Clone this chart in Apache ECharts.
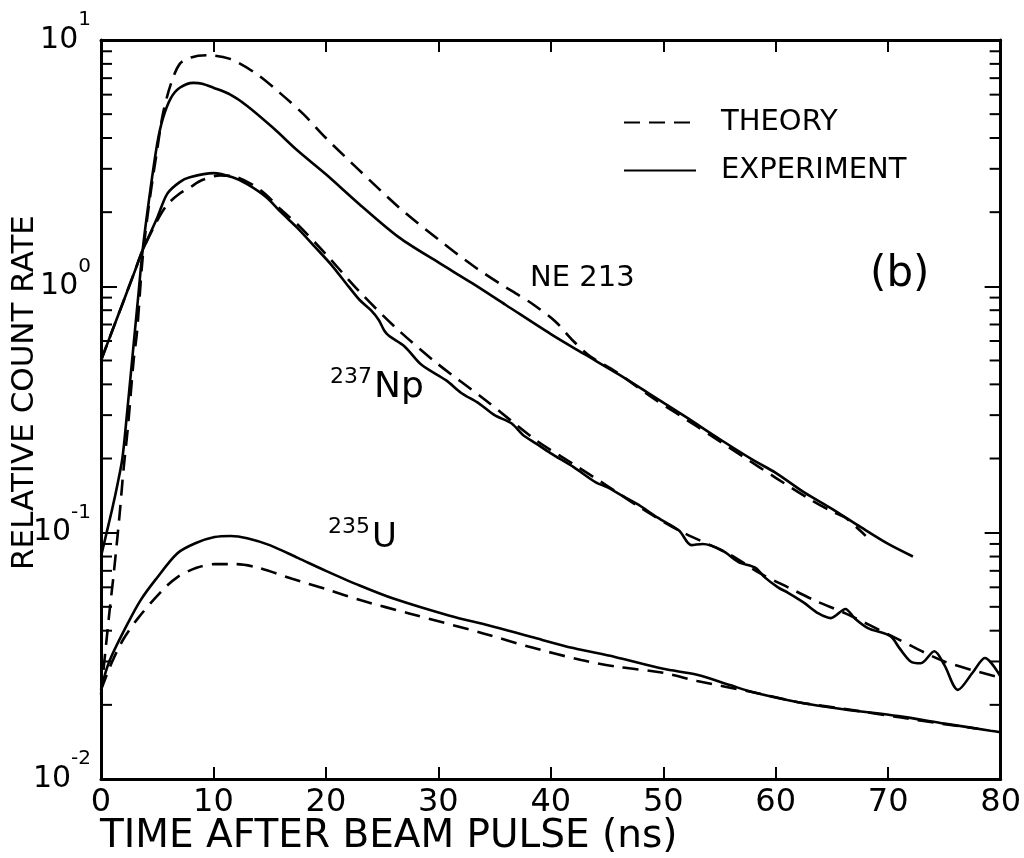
<!DOCTYPE html>
<html>
<head>
<meta charset="utf-8">
<script src="https://cdn.jsdelivr.net/npm/echarts@6/dist/echarts.min.js"></script>
<style>
  html, body { margin: 0; padding: 0; background: #fff; }
  #chart { width: 1024px; height: 858px; }
</style>
</head>
<body>
<div id="chart"></div>
<script>
var FONT = 'DejaVu Sans'

// time (ns) vs relative count rate
var ne213Exp = [
  [0, 0.08], [0.5, 0.1], [1, 0.125], [1.5, 0.16], [1.9, 0.2], [2.3, 0.3], [2.85, 0.55],
  [3.3, 0.9], [3.7, 1.4], [4.3, 2.3], [5, 3.8], [5.5, 4.8], [6.2, 5.8], [7, 6.4],
  [8.2, 6.7], [9, 6.65], [10, 6.4], [11.5, 6.0], [13, 5.4], [15.3, 4.4], [17.5, 3.55],
  [20, 2.85], [23, 2.15], [26.5, 1.58], [30, 1.25], [33, 1.03], [36, 0.84], [40, 0.64],
  [43, 0.53], [46, 0.44], [48.7, 0.368], [52, 0.295], [55, 0.24], [58, 0.197],
  [60, 0.175], [62.6, 0.145], [65, 0.125], [67.6, 0.105], [70, 0.09], [72.2, 0.08]
]
var ne213Theory = [
  [0, 0.022], [0.5, 0.037], [0.8, 0.05], [1.1, 0.066], [1.5, 0.1], [1.7, 0.125],
  [2, 0.18], [2.4, 0.27], [2.9, 0.5], [3.2, 0.65], [3.7, 1.3], [4.3, 2.2], [5, 3.6],
  [5.5, 5.0], [6.2, 6.6], [7, 8.0], [8, 8.5], [9.4, 8.67], [11.4, 8.4], [13.8, 7.3],
  [15.9, 6.1], [18, 5.0], [20, 4.0], [23, 2.95], [26.5, 2.09], [30, 1.55], [33, 1.22],
  [35.4, 1.03], [37, 0.93], [38.5, 0.84], [40.4, 0.72], [42, 0.6], [43.5, 0.52],
  [45.8, 0.45], [49, 0.354], [53, 0.27], [57, 0.205], [60, 0.167], [63, 0.137],
  [65, 0.122], [66.2, 0.115], [67.5, 0.102], [68, 0.097]
]
var np237Exp = [
  [0, 0.5], [1, 0.66], [2, 0.87], [3, 1.15], [3.7, 1.4], [5, 1.9], [5.9, 2.38], [7, 2.65],
  [7.9, 2.77], [10, 2.88], [11.7, 2.77], [13, 2.6], [14.7, 2.3], [16, 2.0], [17.5, 1.72],
  [19, 1.45], [20.5, 1.22], [22, 1.0], [23, 0.88], [24, 0.8], [24.7, 0.73], [25.2, 0.66],
  [25.6, 0.63], [27, 0.57], [28.5, 0.48], [30.7, 0.415], [32, 0.37], [33.6, 0.335],
  [35, 0.3], [36.5, 0.278], [37.5, 0.25], [38.7, 0.23], [40, 0.21], [42, 0.185],
  [44, 0.16], [45, 0.153], [46.5, 0.14], [48, 0.128], [49.5, 0.115], [51.4, 0.102],
  [52.5, 0.089], [53.5, 0.09], [55.2, 0.085], [56.7, 0.076], [58.2, 0.072], [59, 0.066],
  [60.2, 0.06], [61.1, 0.057], [62.5, 0.052], [63.8, 0.047], [64.9, 0.045], [66.2, 0.049],
  [67, 0.045], [68.2, 0.041], [70.2, 0.038], [71, 0.034], [72, 0.03], [72.9, 0.0295],
  [74.1, 0.033], [75, 0.029], [76.2, 0.023], [77.5, 0.027], [78.6, 0.031], [80, 0.026]
]
var np237Theory = [
  [0, 0.5], [1, 0.66], [2, 0.87], [3, 1.15], [3.7, 1.4], [5, 1.85], [5.9, 2.15], [7, 2.38],
  [7.9, 2.52], [9, 2.7], [10.6, 2.82], [12, 2.78], [13.5, 2.58], [14.7, 2.35], [16, 2.05],
  [17.5, 1.78], [20, 1.35], [23, 0.95], [26.2, 0.68], [29.8, 0.49], [34.2, 0.345],
  [38.7, 0.237], [42, 0.19], [45, 0.155], [48, 0.126], [51.4, 0.102], [55.8, 0.082],
  [58.7, 0.068], [61.1, 0.06], [63.5, 0.053], [66.2, 0.047], [70.6, 0.0375], [75, 0.03],
  [80, 0.0258]
]
var u235Exp = [
  [0, 0.023], [0.5, 0.028], [1, 0.032], [2.4, 0.043], [3.5, 0.053], [4.8, 0.064],
  [6.8, 0.0825], [8.5, 0.091], [10.1, 0.096], [11.5, 0.097], [13, 0.095], [15, 0.089],
  [17.5, 0.079], [20, 0.07], [23, 0.061], [26, 0.054], [31, 0.046], [34.5, 0.042],
  [38.3, 0.0377], [42, 0.034], [45.7, 0.0313], [50, 0.028], [53, 0.0265], [56, 0.024],
  [58, 0.0225], [62, 0.0205], [66, 0.0192], [70.9, 0.018], [75, 0.0168], [79.1, 0.0157],
  [80, 0.0155]
]
var u235Theory = [
  [0, 0.023], [1, 0.03], [2, 0.037], [3.3, 0.045], [5.4, 0.058], [6.8, 0.066], [8.5, 0.072],
  [10.1, 0.0745], [12, 0.0745], [14, 0.072], [17, 0.065], [20, 0.059], [23.2, 0.053],
  [27.4, 0.047], [34, 0.039], [38, 0.0345], [42.7, 0.0304], [46, 0.0285], [50, 0.027],
  [53, 0.025], [58, 0.0225], [62, 0.0205], [66, 0.0193], [71, 0.0178], [75, 0.0167],
  [78, 0.016]
]

var yMinorTicks = [
  0.02, 0.03, 0.04, 0.05, 0.06, 0.07, 0.08, 0.09,
  0.2, 0.3, 0.4, 0.5, 0.6, 0.7, 0.8, 0.9,
  2, 3, 4, 5, 6, 7, 8, 9
]

var chart = echarts.init(document.getElementById('chart'))

function lineSeries(name, data, dashed) {
  return {
    name: name,
    type: 'line',
    data: data,
    symbol: 'none',
    showSymbol: false,
    smooth: 0.3,
    silent: true,
    itemStyle: { color: '#000' },
    lineStyle: { color: '#000', width: 2.6, type: dashed ? [16, 9] : 'solid' },
    z: 3
  }
}

var axisLine = { show: true, onZero: false, lineStyle: { color: '#000', width: 3 } }

var option = {
  backgroundColor: '#fff',
  animation: false,
  textStyle: { fontFamily: FONT, color: '#000' },
  grid: { left: 101, right: 21, top: 40, bottom: 79 },
  legend: {
    data: ['THEORY', 'EXPERIMENT'],
    orient: 'vertical',
    left: 618,
    top: 103,
    itemWidth: 72,
    itemHeight: 14,
    itemGap: 19,
    selectedMode: false,
    itemStyle: { opacity: 0 },
    textStyle: { fontFamily: FONT, fontSize: 29, color: '#000', padding: [0, 0, 0, 20] }
  },
  xAxis: [
    {
      type: 'value', min: 0, max: 80, interval: 10,
      axisLine: axisLine,
      axisTick: { inside: true, length: 12, lineStyle: { width: 2, color: '#000' } },
      axisLabel: { fontFamily: FONT, fontSize: 32, color: '#000', margin: 8 },
      splitLine: { show: false }
    },
    {
      type: 'value', position: 'top', min: 0, max: 80, interval: 10,
      axisLine: axisLine,
      axisTick: { inside: true, length: 12, lineStyle: { width: 2, color: '#000' } },
      axisLabel: { show: false },
      splitLine: { show: false }
    }
  ],
  yAxis: [
    {
      type: 'log', logBase: 10, min: 0.01, max: 10,
      axisLine: axisLine,
      axisTick: { inside: true, length: 16, lineStyle: { width: 2, color: '#000' } },
      axisLabel: {
        margin: 10,
        formatter: function (v) {
          return '{b|10}{s|' + Math.round(Math.log10(v)) + '}'
        },
        rich: {
          b: { fontFamily: FONT, fontSize: 30, color: '#000' },
          s: { fontFamily: FONT, fontSize: 20, color: '#000', padding: [0, 0, 40, 0] }
        }
      },
      splitLine: { show: false }
    },
    {
      type: 'log', logBase: 10, min: 0.01, max: 10, position: 'right',
      axisLine: axisLine,
      axisTick: { inside: true, length: 16, lineStyle: { width: 2, color: '#000' } },
      axisLabel: { show: false },
      splitLine: { show: false }
    }
  ],
  series: [
    lineSeries('THEORY', ne213Theory, true),
    lineSeries('EXPERIMENT', ne213Exp, false),
    lineSeries('THEORY', np237Theory, true),
    lineSeries('EXPERIMENT', np237Exp, false),
    lineSeries('THEORY', u235Theory, true),
    lineSeries('EXPERIMENT', u235Exp, false),
    {
      // minor log ticks on left and right frame
      type: 'custom',
      silent: true,
      data: yMinorTicks.map(function (v) { return [0, v] }),
      renderItem: function (params, api) {
        var l = api.coord([0, api.value(1)])
        var r = api.coord([80, api.value(1)])
        var st = { stroke: '#000', lineWidth: 2 }
        return {
          type: 'group',
          children: [
            { type: 'line', shape: { x1: l[0], y1: l[1], x2: l[0] + 11, y2: l[1] }, style: st },
            { type: 'line', shape: { x1: r[0] - 11, y1: r[1], x2: r[0], y2: r[1] }, style: st }
          ]
        }
      },
      z: 4
    }
  ],
  graphic: [
    {
      type: 'text', left: 100, top: 817,
      style: { text: 'TIME AFTER BEAM PULSE (ns)', font: '39px "DejaVu Sans"', fill: '#000' }
    },
    {
      type: 'text', x: 9, y: 570, rotation: Math.PI / 2,
      style: { text: 'RELATIVE COUNT RATE', font: '31px "DejaVu Sans"', fill: '#000', verticalAlign: 'top' }
    },
    {
      type: 'text', left: 530, top: 264,
      style: { text: 'NE 213', font: '29px "DejaVu Sans"', fill: '#000' }
    },
    {
      type: 'text', left: 870, top: 254,
      style: { text: '(b)', font: '42px "DejaVu Sans"', fill: '#000' }
    },
    {
      type: 'text', left: 330, top: 366,
      style: {
        text: '{s|237}{b|Np}',
        rich: {
          s: { fontFamily: FONT, fontSize: 22, fill: '#000', padding: [0, 2, 22, 0] },
          b: { fontFamily: FONT, fontSize: 36, fill: '#000' }
        }
      }
    },
    {
      type: 'text', left: 328, top: 516,
      style: {
        text: '{s|235}{b|U}',
        rich: {
          s: { fontFamily: FONT, fontSize: 22, fill: '#000', padding: [0, 2, 22, 0] },
          b: { fontFamily: FONT, fontSize: 34, fill: '#000' }
        }
      }
    }
  ]
}

chart.setOption(option)
</script>
</body>
</html>
